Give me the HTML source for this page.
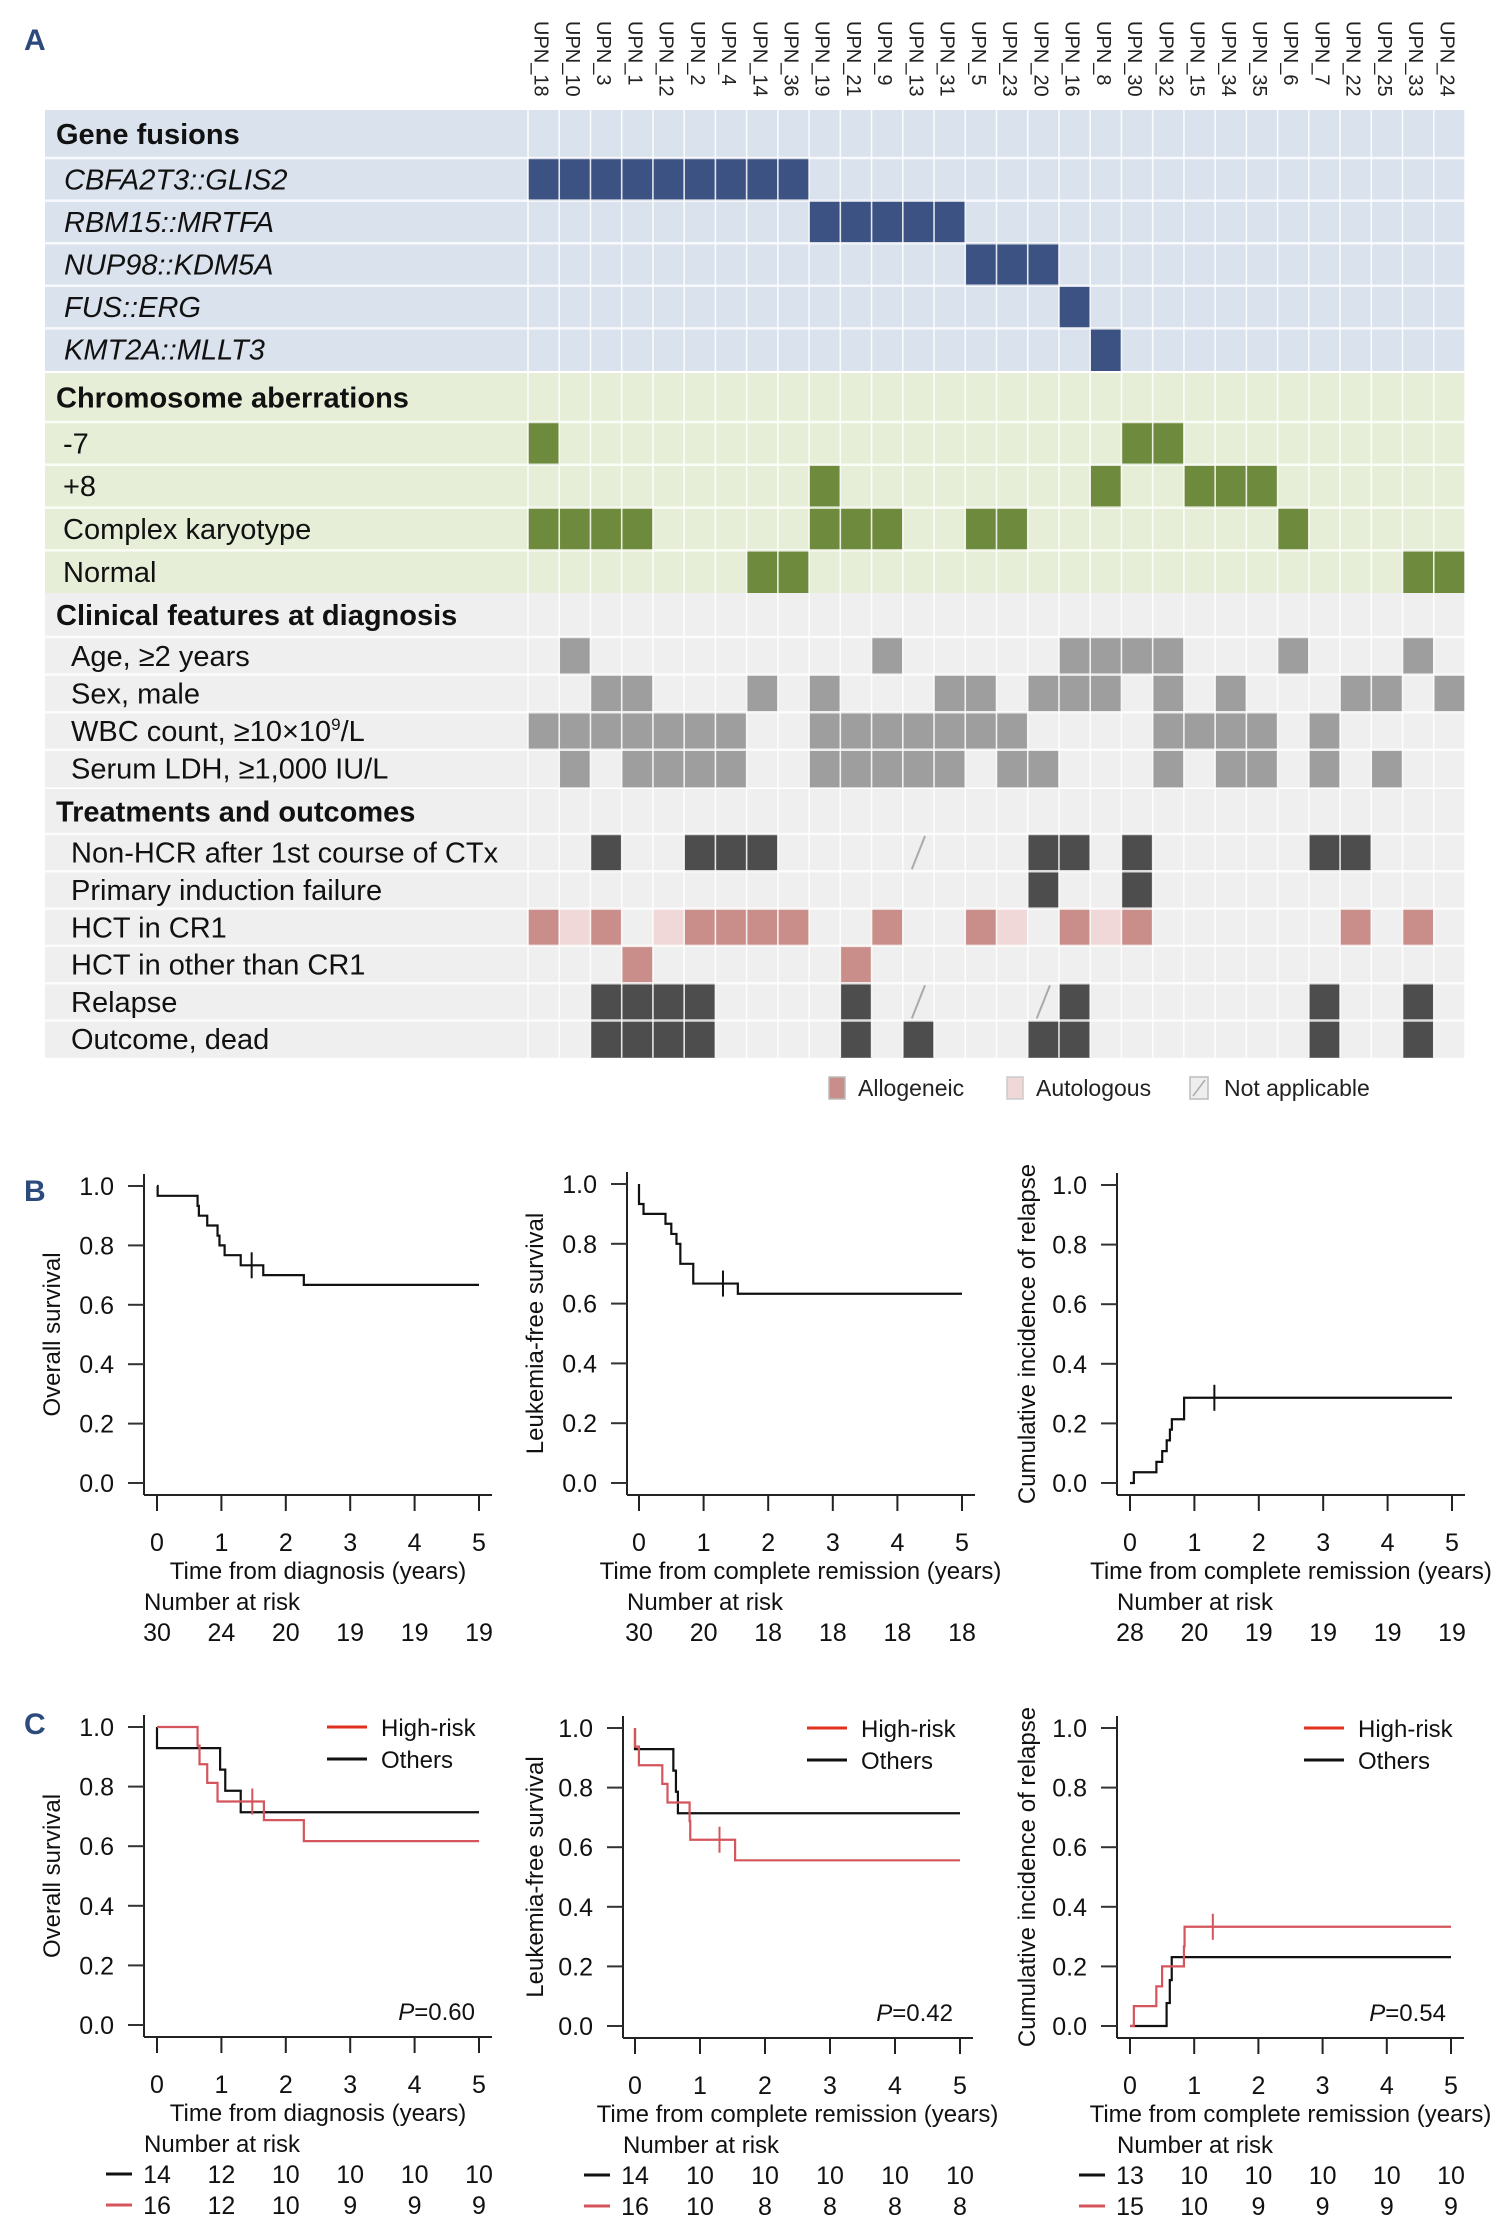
<!DOCTYPE html>
<html><head><meta charset="utf-8">
<style>
html,body{margin:0;padding:0;background:#fff;}
svg{display:block;font-family:"Liberation Sans",Arial,sans-serif;}
</style></head>
<body>
<svg id="fig" width="1510" height="2239" viewBox="0 0 1510 2239" xmlns="http://www.w3.org/2000/svg">
<text x="24" y="50" font-size="30" font-weight="bold" fill="#2c4a7c">A</text>
<text x="24" y="1201" font-size="30" font-weight="bold" fill="#2c4a7c">B</text>
<text x="24" y="1734" font-size="30" font-weight="bold" fill="#2c4a7c">C</text>
<g id="heat"></g>
<g id="legendA">
  <rect x="829" y="1077" width="16" height="22" fill="#c98d8a" stroke="#bbb" stroke-width="1.5"/>
  <text x="858" y="1096" font-size="23" fill="#222">Allogeneic</text>
  <rect x="1007" y="1077" width="16" height="22" fill="#efd8d7" stroke="#ccc" stroke-width="1.5"/>
  <text x="1036" y="1096" font-size="23" fill="#222">Autologous</text>
  <rect x="1190" y="1077" width="18" height="22" fill="#eee" stroke="#bbb" stroke-width="1.5"/>
  <line x1="1193" y1="1096" x2="1205" y2="1080" stroke="#aaa" stroke-width="1.5"/>
  <text x="1224" y="1096" font-size="23" fill="#222">Not applicable</text>
</g>
<g id="km"></g>
</svg>
<script>
// ---------- Heatmap data ----------
const patients = ["UPN_18","UPN_10","UPN_3","UPN_1","UPN_12","UPN_2","UPN_4","UPN_14","UPN_36","UPN_19","UPN_21","UPN_9","UPN_13","UPN_31","UPN_5","UPN_23","UPN_20","UPN_16","UPN_8","UPN_30","UPN_32","UPN_15","UPN_34","UPN_35","UPN_6","UPN_7","UPN_22","UPN_25","UPN_33","UPN_24"];
const rowCBFA = [0,1,2,3,4,5,6,7,8];
const rowRBM = [9,10,11,12,13];
const rowNUP = [14,15,16];
const rowFUS = [17];
const rowKMT = [18];
const rowMinus7 = [0,19,20];
const rowPlus8 = [9,18,21,22,23];
const rowComplex = [0,1,2,3,9,10,11,14,15,24];
const rowNormal = [7,8,28,29];
const rowAge = [1,11,17,18,19,20,24,28];
const rowSex = [2,3,7,9,13,14,16,17,18,20,22,26,27,29];
const rowWBC = [0,1,2,3,4,5,6,9,10,11,12,13,14,15,20,21,22,23,25];
const rowLDH = [1,3,4,5,6,9,10,11,12,13,15,16,20,22,23,25,27];
const rowNonHCR = [2,5,6,7,16,17,19,25,26];
const rowNonHCRna = [12];
const rowPIF = [16,19];
const rowHctAllo = [0,2,5,6,7,8,11,14,17,19,26,28];
const rowHctAuto = [1,4,15,18];
const rowHctOther = [3,10];
const rowRelapse = [2,3,4,5,10,17,25,28];
const rowRelapseNa = [12,16];
const rowDead = [2,3,4,5,10,12,16,17,25,28];

const blocks = [
 {title:"Gene fusions", top:110, head:48, rh:42.6, bg:"#dae2ed", col:"#3b5283", italic:true, lx:64,
  rows:[["CBFA2T3::GLIS2",rowCBFA],["RBM15::MRTFA",rowRBM],["NUP98::KDM5A",rowNUP],["FUS::ERG",rowFUS],["KMT2A::MLLT3",rowKMT]]},
 {title:"Chromosome aberrations", top:373, head:49, rh:42.8, bg:"#e6eed8", col:"#6e8a3c", lx:63,
  rows:[["-7",rowMinus7],["+8",rowPlus8],["Complex karyotype",rowComplex],["Normal",rowNormal]]},
 {title:"Clinical features at diagnosis", top:593, head:44, rh:37.6, bg:"#efefef", col:"#9e9e9e", lx:71,
  rows:[["Age, \u22652 years",rowAge],["Sex, male",rowSex],["WBC count, \u226510\u00d710<sup>9</sup>/L",rowWBC],["Serum LDH, \u22651,000 IU/L",rowLDH]]},
 {title:"Treatments and outcomes", top:789, head:45, rh:37.3, bg:"#efefef", col:"#4d4d4d", lx:71,
  rows:[["Non-HCR after 1st course of CTx",rowNonHCR,null,rowNonHCRna],["Primary induction failure",rowPIF],
        ["HCT in CR1",rowHctAllo,rowHctAuto,null,"#c98d8a"],["HCT in other than CR1",rowHctOther,null,null,"#c98d8a"],
        ["Relapse",rowRelapse,null,rowRelapseNa],["Outcome, dead",rowDead]]}
];

const NS="http://www.w3.org/2000/svg";
function mk(tag,attrs,parent){const e=document.createElementNS(NS,tag);for(const k in attrs)e.setAttribute(k,attrs[k]);parent.appendChild(e);return e;}
const heat=document.getElementById('heat');
const X0=45, HX=528, HX1=1465, CW=(HX1-HX)/patients.length;
function cx(i){return HX+i*CW;}

patients.forEach((p,i)=>{
  const t=mk('text',{x:cx(i)+CW/2-3,y:21,'font-size':20,fill:'#222','writing-mode':'vertical-rl'},heat);
  
  
  t.textContent=p;
});

blocks.forEach(b=>{
  const h=b.head+b.rows.length*b.rh;
  const bg=mk('rect',{x:X0,y:b.top,width:HX1-X0,height:h,fill:b.bg},heat);
  
  
  const tt=mk('text',{x:56,y:b.top+b.head/2+10,'font-size':29,'font-weight':'bold',fill:'#111'},heat);
  
  
  tt.textContent=b.title;
  b.rows.forEach((r,ri)=>{
    const y=b.top+b.head+ri*b.rh;
    const lab=mk('text',{x:b.lx,y:y+b.rh/2+10,'font-size':29,fill:'#111','font-style':b.italic?'italic':'normal'},heat);
    
    
    lab.innerHTML=r[0].replace('<sup>','<tspan font-size="17" dy="-11">').replace('</sup>','</tspan><tspan dy="11">');
    const fill=r[4]||b.col;
    r[1].forEach(i=>{
      const c=mk('rect',{x:cx(i),y:y,width:CW,height:b.rh,fill:fill},heat);
      
      
    });
    if(r[2]) r[2].forEach(i=>{
      const c=mk('rect',{x:cx(i),y:y,width:CW,height:b.rh,fill:'#efd8d7'},heat);
      
      
    });
    if(r[3]) r[3].forEach(i=>{
      const c=mk('line',{x1:cx(i)+9,y1:y+b.rh-2,x2:cx(i)+CW-9,y2:y+2,stroke:'#aaa','stroke-width':2},heat);
      
      
    });
    if(ri>0) mk('line',{x1:X0,y1:y,x2:HX1,y2:y,stroke:'#fff','stroke-width':2.5,'stroke-opacity':0.8},heat);
  });
  mk('line',{x1:X0,y1:b.top+b.head,x2:HX1,y2:b.top+b.head,stroke:'#fff','stroke-width':2.5,'stroke-opacity':0.8},heat);
  for(let i=0;i<=patients.length;i++){
    mk('line',{x1:cx(i),y1:b.top,x2:cx(i),y2:b.top+h,stroke:'#fff','stroke-width':1.6,'stroke-opacity':0.85},heat);
  }
});

// ---------- KM data ----------
const tickYears=[0,1,2,3,4,5];
const yTicks=[0,0.2,0.4,0.6,0.8,1.0];
const osTimes=[0.01,0.63,0.65,0.78,0.94,0.97,1.05,1.3,1.65,2.28];
const osVals=[0.967,0.933,0.9,0.867,0.833,0.8,0.767,0.733,0.7,0.667];
const osCens=[1.47];
const osRisk=["30","24","20","19","19","19"];
const lfsTimes=[0.0,0.07,0.41,0.5,0.58,0.64,0.84,1.53];
const lfsVals=[0.933,0.9,0.867,0.833,0.8,0.733,0.667,0.633];
const lfsCens=[1.30];
const lfsRisk=["30","20","18","18","18","18"];
const cirTimes=[0.06,0.41,0.5,0.57,0.62,0.65,0.84];
const cirVals=[0.036,0.071,0.107,0.143,0.179,0.214,0.286];
const cirCens=[1.31];
const cirRisk=["28","20","19","19","19","19"];
const osHrTimes=[0.63,0.66,0.78,0.94,1.66,2.28];
const osHrVals=[0.9375,0.875,0.8125,0.75,0.6875,0.617];
const osHrCens=[1.48];
const osOtTimes=[0.0,0.98,1.06,1.30];
const osOtVals=[0.929,0.857,0.786,0.714];
const osOtCens=[];
const osRiskOt=["14","12","10","10","10","10"];
const osRiskHr=["16","12","10","9","9","9"];
const lfsHrTimes=[0.0,0.06,0.42,0.5,0.84,0.85,1.54];
const lfsHrVals=[0.9375,0.875,0.8125,0.75,0.6875,0.625,0.556];
const lfsHrCens=[1.30];
const lfsOtTimes=[0.0,0.59,0.63,0.66];
const lfsOtVals=[0.929,0.857,0.786,0.714];
const lfsOtCens=[];
const lfsRiskOt=["14","10","10","10","10","10"];
const lfsRiskHr=["16","10","8","8","8","8"];
const cirHrTimes=[0.06,0.41,0.5,0.84,0.85];
const cirHrVals=[0.0667,0.133,0.2,0.267,0.333];
const cirHrCens=[1.29];
const cirOtTimes=[0.57,0.62,0.65];
const cirOtVals=[0.077,0.154,0.231];
const cirOtCens=[];
const cirRiskOt=["13","10","10","10","10","10"];
const cirRiskHr=["15","10","9","9","9","9"];

const km=document.getElementById('km');
const RED="#d4555c", BLK="#111";

function panel(o){
  const xs=t=>o.t0+(o.t5-o.t0)*t/5;
  const ys=v=>o.y0-(o.y0-o.y1)*v;
  const g=mk('g',{},km);
  
  
  const ax=o.ax, axY=o.y0+12;
  mk('line',{x1:ax,y1:o.y1-12,x2:ax,y2:axY,stroke:'#222','stroke-width':2},g);
  mk('line',{x1:ax,y1:axY,x2:o.t5+13,y2:axY,stroke:'#222','stroke-width':2},g);
  yTicks.forEach(v=>{
    mk('line',{x1:ax-16,y1:ys(v),x2:ax,y2:ys(v),stroke:'#333','stroke-width':2},g);
    const t=mk('text',{x:ax-30,y:ys(v)+9,'font-size':25,'text-anchor':'end',fill:'#111'},g);
    
    
    t.textContent=v.toFixed(1);
  });
  tickYears.forEach(v=>{
    mk('line',{x1:xs(v),y1:axY,x2:xs(v),y2:axY+16,stroke:'#222','stroke-width':2},g);
    const t=mk('text',{x:xs(v),y:axY+56,'font-size':25,'text-anchor':'middle',fill:'#111'},g);
    
    
    t.textContent=v;
  });
  const yl=mk('text',{x:0,y:0,'font-size':24,'text-anchor':'middle',fill:'#111',transform:`translate(${o.ylx},${(o.y0+o.y1)/2}) rotate(-90)`},g);
  
  
  yl.textContent=o.ylabel;
  const xl=mk('text',{x:(o.t0+o.t5)/2,y:axY+84,'font-size':24,'text-anchor':'middle',fill:'#111'},g);
  
  
  xl.textContent=o.xlabel;
  const nr=mk('text',{x:ax,y:axY+115,'font-size':24,fill:'#111'},g);
  
  
  nr.textContent="Number at risk";
  o.series.forEach((s,si)=>{
    let d=`M${xs(0)},${ys(s.start)}`;
    s.times.forEach((t,i)=>{d+=`H${xs(t)}V${ys(s.vals[i])}`;});
    d+=`H${xs(5)}`;
    const p=mk('path',{d:d,fill:'none',stroke:s.color,'stroke-width':2.2},g);
    
    
    s.cens.forEach(tc=>{
      let v=s.start;s.times.forEach((t,i)=>{if(t<=tc)v=s.vals[i];});
      const c=mk('line',{x1:xs(tc),y1:ys(v)-13,x2:xs(tc),y2:ys(v)+13,stroke:s.color,'stroke-width':2},g);
      
      
    });
    const ry=axY+146+si*31;
    s.risk.forEach((r,i)=>{
      const t=mk('text',{x:xs(i),y:ry,'font-size':25,'text-anchor':'middle',fill:'#111'},g);
      
      
      t.textContent=r;
    });
    if(o.series.length>1){
      mk('line',{x1:xs(0)-51,y1:ry-9,x2:xs(0)-25,y2:ry-9,stroke:s.color,'stroke-width':3},g);
    }
  });
  if(o.legend){
    const lx=o.legend;
    [["High-risk","#e0301e",0],["Others",BLK,1]].forEach(([lab,c,i])=>{
      const ly=o.y1+i*32;
      mk('line',{x1:lx,y1:ly,x2:lx+40,y2:ly,stroke:c,'stroke-width':3},g);
      const t=mk('text',{x:lx+54,y:ly+9,'font-size':24,fill:'#111'},g);
      
      
      t.textContent=lab;
    });
    const pt=mk('text',{x:o.pX,y:o.y0-5,'font-size':24,'text-anchor':'end',fill:'#111'},g);
    
    
    pt.innerHTML='<tspan font-style="italic">P</tspan>='+o.p;
  }
}

panel({name:'b-overall-survival',ax:144,t0:157,t5:479,y0:1483,y1:1186,ylx:60,ylabel:'Overall  survival',xlabel:'Time from diagnosis (years)',
  series:[{key:'all',start:1,times:osTimes,vals:osVals,cens:osCens,risk:osRisk,color:BLK}]});
panel({name:'b-leukemia-free-survival',ax:627,t0:639,t5:962,y0:1483,y1:1184,ylx:543,ylabel:'Leukemia-free survival',xlabel:'Time from complete remission (years)',
  series:[{key:'all',start:1,times:lfsTimes,vals:lfsVals,cens:lfsCens,risk:lfsRisk,color:BLK}]});
panel({name:'b-cumulative-incidence-relapse',ax:1117,t0:1130,t5:1452,y0:1483,y1:1185,ylx:1035,ylabel:'Cumulative incidence of relapse',xlabel:'Time from complete remission (years)',
  series:[{key:'all',start:0,times:cirTimes,vals:cirVals,cens:cirCens,risk:cirRisk,color:BLK}]});

panel({name:'c-overall-survival',ax:144,t0:157,t5:479,y0:2025,y1:1727,ylx:60,ylabel:'Overall  survival',xlabel:'Time from diagnosis (years)',legend:327,pX:475,p:'0.60',
  series:[{key:'others',start:1,times:osOtTimes,vals:osOtVals,cens:osOtCens,risk:osRiskOt,color:BLK},
          {key:'high-risk',start:1,times:osHrTimes,vals:osHrVals,cens:osHrCens,risk:osRiskHr,color:RED}]});
panel({name:'c-leukemia-free-survival',ax:623,t0:635,t5:960,y0:2026,y1:1728,ylx:543,ylabel:'Leukemia-free survival',xlabel:'Time from complete remission (years)',legend:807,pX:953,p:'0.42',
  series:[{key:'others',start:1,times:lfsOtTimes,vals:lfsOtVals,cens:lfsOtCens,risk:lfsRiskOt,color:BLK},
          {key:'high-risk',start:1,times:lfsHrTimes,vals:lfsHrVals,cens:lfsHrCens,risk:lfsRiskHr,color:RED}]});
panel({name:'c-cumulative-incidence-relapse',ax:1117,t0:1130,t5:1451,y0:2026,y1:1728,ylx:1035,ylabel:'Cumulative incidence of relapse',xlabel:'Time from complete remission (years)',legend:1304,pX:1446,p:'0.54',
  series:[{key:'others',start:0,times:cirOtTimes,vals:cirOtVals,cens:cirOtCens,risk:cirRiskOt,color:BLK},
          {key:'high-risk',start:0,times:cirHrTimes,vals:cirHrVals,cens:cirHrCens,risk:cirRiskHr,color:RED}]});
</script>
</body></html>
